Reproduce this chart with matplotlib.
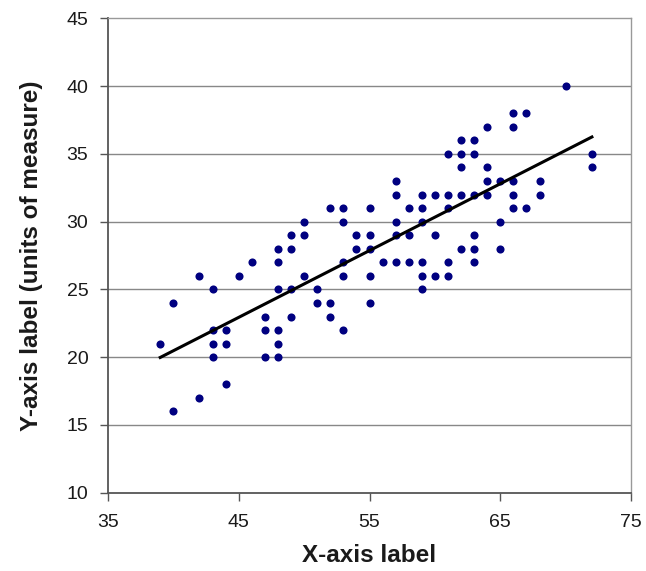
import numpy as np
import matplotlib
matplotlib.use("Agg")
import matplotlib.pyplot as plt

plt.rcParams['font.family'] = ['Liberation Sans', 'DejaVu Sans']

# data: x value -> list of y values
x_vals = [39, 40, 40, 42, 42, 43, 43, 43, 43, 44, 44, 44, 45, 46,
          47, 47, 47, 48, 48, 48, 48, 48, 48, 49, 49, 49, 49,
          50, 50, 50, 51, 51, 52, 52, 52, 53, 53, 53, 53, 53,
          54, 54, 55, 55, 55, 55, 55, 56, 57, 57, 57, 57, 57,
          58, 58, 58, 59, 59, 59, 59, 59, 59, 60, 60, 60,
          61, 61, 61, 61, 61, 62, 62, 62, 62, 62,
          63, 63, 63, 63, 63, 63, 64, 64, 64, 64, 65, 65, 65,
          66, 66, 66, 66, 66, 67, 67, 68, 68, 70, 72, 72]
y_vals = [21, 24, 16, 26, 17, 25, 22, 21, 20, 22, 21, 18, 26, 27,
          23, 22, 20, 28, 27, 25, 22, 21, 20, 29, 28, 25, 23,
          30, 29, 26, 25, 24, 31, 24, 23, 31, 30, 27, 26, 22,
          29, 28, 31, 29, 28, 26, 24, 27, 33, 32, 30, 29, 27,
          31, 29, 27, 32, 31, 30, 27, 26, 25, 32, 29, 26,
          35, 32, 31, 27, 26, 36, 35, 34, 32, 28,
          36, 35, 32, 29, 28, 27, 37, 34, 33, 32, 33, 30, 28,
          38, 37, 33, 32, 31, 38, 31, 33, 32, 40, 35, 34]
x_ticks = [35, 45, 55, 65, 75]
y_ticks = [10, 15, 20, 25, 30, 35, 40, 45]

x = np.array(x_vals, dtype=float)
y = np.array(y_vals, dtype=float)
slope, intercept = np.polyfit(x, y, 1)
xl = np.array([x.min(), x.max()])

fig = plt.figure(figsize=(6.46, 5.71), dpi=100)
ax = fig.add_axes([0.167, 0.137, 0.810, 0.831])

for yt in y_ticks[1:-1]:
    ax.axhline(yt, color='#888888', lw=1.0, zorder=0)

ax.scatter(x, y, s=34, color='#000080', zorder=3, linewidths=0)
ax.plot(xl, slope * xl + intercept, color='black', lw=2.2, zorder=4)

ax.set_xlim(35, 75)
ax.set_ylim(10, 45)
ax.set_xticks(x_ticks)
ax.set_yticks(y_ticks)
ax.tick_params(axis='both', labelsize=14, length=6, width=1.0,
               color='#555555', labelcolor='#1a1a1a', direction='out')
ax.tick_params(axis='y', pad=8)
ax.tick_params(axis='x', pad=9)
for side in ['left', 'bottom']:
    ax.spines[side].set_color('#555555')
    ax.spines[side].set_linewidth(1.3)
for side in ['top', 'right']:
    ax.spines[side].set_color('#999999')
    ax.spines[side].set_linewidth(1.0)

ax.set_xlabel('X-axis label', fontsize=17.5, fontweight='bold', color='#1a1a1a', labelpad=10)
ax.set_ylabel('Y-axis label (units of measure)', fontsize=17.5, fontweight='bold',
              color='#1a1a1a', labelpad=17)

fig.savefig('out.png', dpi=100)
